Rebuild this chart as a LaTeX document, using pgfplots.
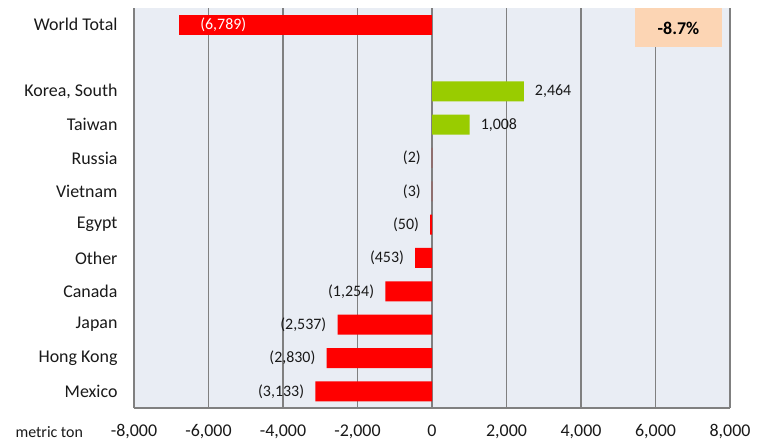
\documentclass[border=0pt]{standalone}
\usepackage{pgfplots}
\pgfplotsset{compat=1.18}
\usepackage{pgfplotstable}
\usepackage{fontspec}
\setmainfont{Carlito}

\definecolor{bgc}{RGB}{233,237,244}
\definecolor{barred}{RGB}{255,0,0}
\definecolor{bargreen}{RGB}{153,204,0}
\definecolor{gridc}{RGB}{128,128,128}
\definecolor{peach}{RGB}{252,213,180}

% y positions: Mexico=0 ... Korea=9, gap at 10, World Total=11
\pgfplotstableread{
y  v     lab
0  -3133 (3,133)
1  -2830 (2,830)
2  -2537 (2,537)
3  -1254 (1,254)
4  -453  (453)
5  -50   (50)
6  -3    (3)
7  -2    (2)
}\negdata
\pgfplotstableread{
y  v     lab
8  1008  1,008
9  2464  2,464
}\posdata
\pgfplotstableread{
y  v     lab
11 -6789 (6,789)
}\worlddata

\begin{document}
\begin{tikzpicture}
\path[use as bounding box] (-134bp,-34bp) rectangle (634bp,408bp);
\begin{axis}[
    at={(0,0)}, anchor=south west,
    scale only axis,
    width=596bp, height=400bp,
    xbar, bar width=20bp, bar shift=0pt,
    xmin=-8000, xmax=8000,
    ymin=-0.5, ymax=11.5,
    xtick={-8000,-6000,...,8000},
    ytick={0,1,2,3,4,5,6,7,8,9,11},
    yticklabels={Mexico,Hong Kong,Japan,Canada,Other,Egypt,Vietnam,Russia,Taiwan,{Korea, South},World Total},
    major tick length=0pt,
    xmajorgrids=true,
    grid style={gridc, line width=1.2bp},
    axis x line*=bottom, axis y line*=left,
    axis line style={gridc, line width=1.5bp, -},
    axis background/.style={fill=bgc},
    tick label style={font=\fontsize{18}{20}\selectfont, text=black!90},
    xticklabel style={yshift=-13bp},
    yticklabel style={xshift=-13bp},
    /pgf/number format/assume math mode=true,
    /pgf/number format/1000 sep={,},
    point meta=explicit symbolic,
    clip=false,
]
\addplot[fill=barred, draw=none,
    nodes near coords,
    every node near coord/.style={anchor=east, inner sep=2bp, xshift=-9bp,
        font=\fontsize{16}{18}\selectfont, text=black!90}]
    table[x=v, y=y, meta=lab] {\negdata};
\addplot[fill=bargreen, draw=none,
    nodes near coords,
    every node near coord/.style={anchor=west, inner sep=2bp, xshift=9bp,
        font=\fontsize{16}{18}\selectfont, text=black!90}]
    table[x=v, y=y, meta=lab] {\posdata};
\addplot[fill=barred, draw=none,
    nodes near coords,
    every node near coord/.style={anchor=west, inner sep=0bp, xshift=21bp,
        font=\fontsize{16}{18}\selectfont, text=white}]
    table[x=v, y=y, meta=lab] {\worlddata};
\node[fill=peach, minimum width=87bp, minimum height=39bp, inner sep=0pt,
    font=\fontsize{18}{20}\selectfont\bfseries] at (axis cs:6617,10.9) {-8.7\%};
\end{axis}
\node[anchor=west, font=\fontsize{16}{18}\selectfont, text=black!90] at (-122bp,-24bp) {metric ton};
\end{tikzpicture}
\end{document}
